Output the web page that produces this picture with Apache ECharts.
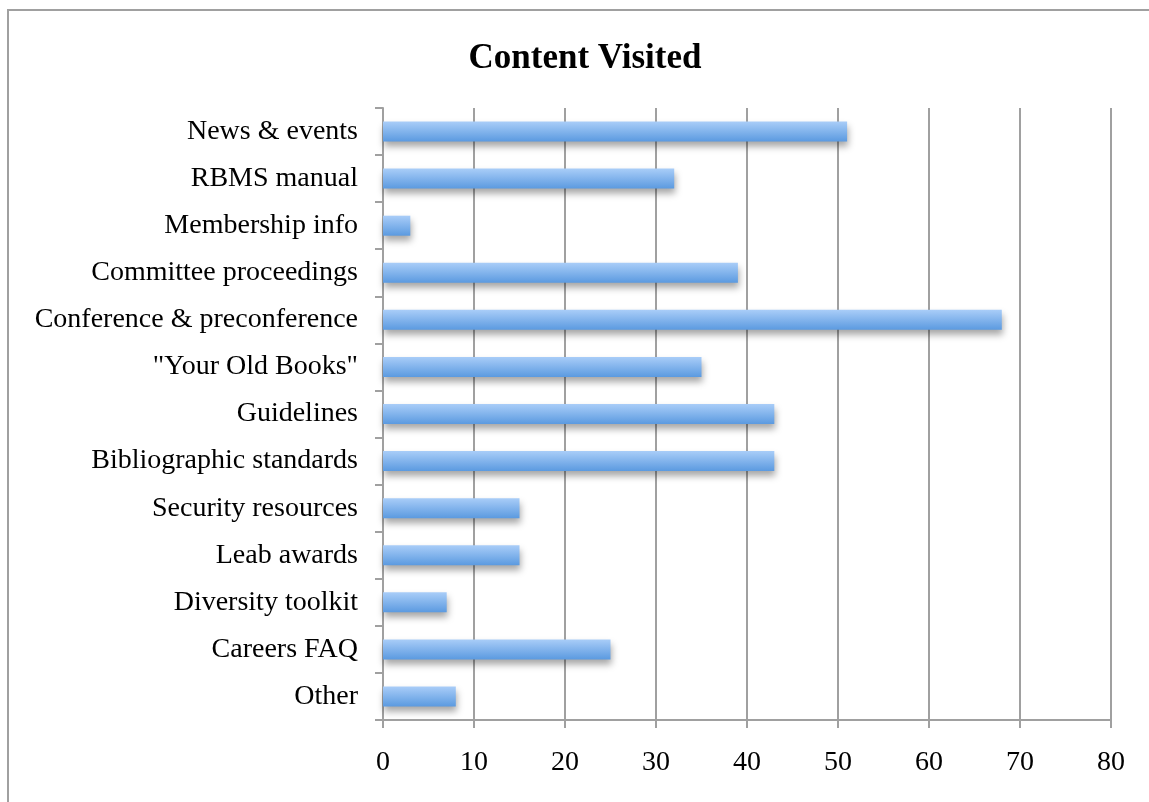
<!DOCTYPE html>
<html><head><meta charset="utf-8">
<script src="https://cdn.jsdelivr.net/npm/echarts@6/dist/echarts.min.js"></script>
<style>html,body{margin:0;padding:0;background:#fff}#c{width:1149px;height:802px}
#f{position:absolute;left:7px;top:9px;width:1160px;height:820px;border:2px solid #a0a0a0;box-sizing:border-box;pointer-events:none}</style>
</head><body><div id="c"></div><div id="f"></div>
<script>
const categories = ["News & events","RBMS manual","Membership info","Committee proceedings","Conference & preconference","\"Your Old Books\"","Guidelines","Bibliographic standards","Security resources","Leab awards","Diversity toolkit","Careers FAQ","Other"];
const values = [51,32,3,39,68,35,43,43,15,15,7,25,8];
const xTicks = [0,10,20,30,40,50,60,70,80];
const chart = echarts.init(document.getElementById('c'));
const font = '"Liberation Serif","DejaVu Serif",serif';
chart.setOption({
  animation:false,
  title:{text:'Content Visited',left:580,top:36,textAlign:'center',textStyle:{fontFamily:font,fontWeight:'bold',fontSize:35,color:'#000'}},
  grid:{left:383,right:38,top:108,bottom:82,containLabel:false},
  xAxis:{type:'value',min:xTicks[0],max:xTicks[xTicks.length-1],interval:10,
    axisLine:{show:true,lineStyle:{color:'#a0a0a0',width:2}},
    axisTick:{show:true,length:8,lineStyle:{color:'#a0a0a0',width:2}},
    splitLine:{show:true,lineStyle:{color:'#a0a0a0',width:2}},
    axisLabel:{fontFamily:font,fontSize:28,color:'#000',margin:29}},
  yAxis:{type:'category',inverse:true,data:categories,
    axisLine:{show:true,lineStyle:{color:'#a0a0a0',width:2}},
    axisTick:{show:true,length:8,lineStyle:{color:'#a0a0a0',width:2}},
    axisLabel:{fontFamily:font,fontSize:28,color:'#000',margin:25,padding:[10,0,0,0]}},
  series:[{type:'bar',data:values,barWidth:20,
    itemStyle:{color:new echarts.graphic.LinearGradient(0,0,0,1,[{offset:0,color:'#a9cdf8'},{offset:1,color:'#5b9ae0'}]),
      shadowColor:'rgba(0,0,0,0.35)',shadowBlur:7,shadowOffsetY:5,shadowOffsetX:1}}]
});
</script></body></html>
